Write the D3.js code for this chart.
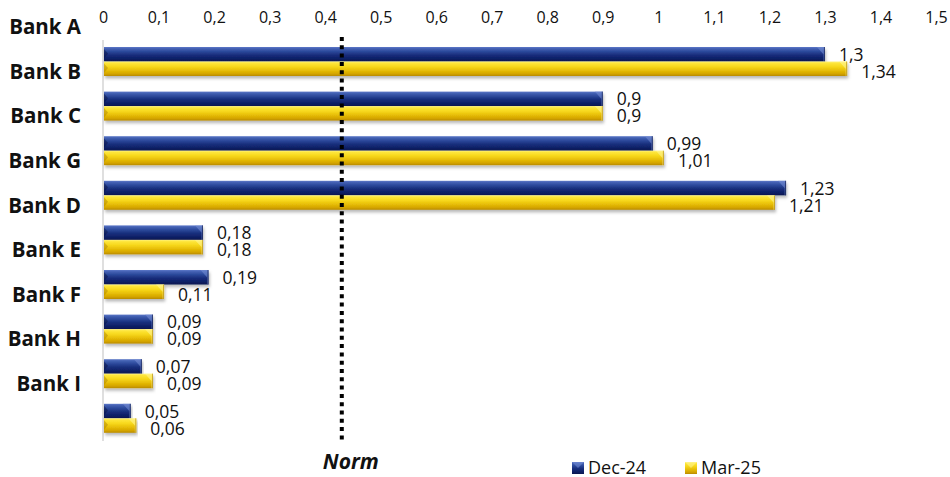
<!DOCTYPE html>
<html>
<head>
<meta charset="utf-8">
<script src="https://cdn.jsdelivr.net/npm/d3@7"></script>
<style>
  html, body { margin: 0; padding: 0; background: #fff; }
  svg { display: block; font-family: "Open Sans", "Noto Sans", sans-serif; }
</style>
</head>
<body>
<svg id="chart" width="950" height="477"></svg>
<script>
// Category labels down the left side
const categories = ["Bank A", "Bank B", "Bank C", "Bank G", "Bank D", "Bank E", "Bank F", "Bank H", "Bank I"];
// Series values, one entry per bar group (top to bottom)
const dec24 = [1.3, 0.9, 0.99, 1.23, 0.18, 0.19, 0.09, 0.07, 0.05];
const mar25 = [1.34, 0.9, 1.01, 1.21, 0.18, 0.11, 0.09, 0.09, 0.06];
const seriesNames = ["Dec-24", "Mar-25"];
// Top axis ticks
const tickValues = [0, 0.1, 0.2, 0.3, 0.4, 0.5, 0.6, 0.7, 0.8, 0.9, 1, 1.1, 1.2, 1.3, 1.4, 1.5];
// Reference level drawn as the dotted "Norm" line
const normValue = 0.43;

const fmt = v => String(+v.toFixed(2)).replace(".", ",");

const svg = d3.select("#chart");
const defs = svg.append("defs");

// Bar gradients: a bevelled, glossy look for each series
function vGrad(id, stops) {
  const g = defs.append("linearGradient").attr("id", id)
    .attr("x1", 0).attr("y1", 0).attr("x2", 0).attr("y2", 1);
  stops.forEach(([o, c]) => g.append("stop").attr("offset", o).attr("stop-color", c));
}
vGrad("gBlue", [[0, "#5d78c8"], [0.12, "#4360b2"], [0.3, "#2d4a9c"], [0.55, "#182e7c"], [0.8, "#0e2066"], [1, "#0a1650"]]);
vGrad("gYellow", [[0, "#fff27a"], [0.12, "#fde53a"], [0.35, "#f7d81c"], [0.6, "#e8bf08"], [0.85, "#d4a400"], [1, "#b88a00"]]);

const shadow = defs.append("filter").attr("id", "shadow")
  .attr("x", "-5%").attr("y", "-30%").attr("width", "110%").attr("height", "180%");
shadow.append("feDropShadow").attr("dx", 1).attr("dy", 2.5).attr("stdDeviation", 1.6)
  .attr("flood-color", "#000").attr("flood-opacity", 0.28);

const x = d3.scaleLinear().domain([0, 1.5]).range([103, 936]);

const groups = d3.range(dec24.length);
const y = d3.scaleBand().domain(groups).range([39.2, 440.6])
  .paddingInner(0.35).paddingOuter(0.175);
const ySub = d3.scaleBand().domain(seriesNames).range([0, y.bandwidth()]);

const seriesData = [
  { name: "Dec-24", values: dec24, fill: "url(#gBlue)", light: "#7890d6", dark: "#08123f", labelDy: 0.5 },
  { name: "Mar-25", values: mar25, fill: "url(#gYellow)", light: "#fff59a", dark: "#a97f00", labelDy: 3 }
];

// Top axis
const axis = d3.axisTop(x).tickValues(tickValues).tickFormat(fmt).tickSize(0).tickPadding(0);
const axG = svg.append("g").attr("transform", "translate(0,23)").call(axis);
axG.select(".domain").remove();
axG.selectAll("text").attr("font-size", 16).attr("fill", "#111")
  .attr("font-family", "'Open Sans', sans-serif").attr("dy", 0);

// Left baseline
svg.append("line").attr("x1", x(0)).attr("x2", x(0))
  .attr("y1", 40).attr("y2", 441)
  .attr("stroke", "#d4d4d4").attr("stroke-width", 1.5);

// Category labels
svg.append("g").selectAll("text").data(categories).join("text")
  .attr("x", 81)
  .attr("y", (d, i) => y(i) - 20)
  .attr("dy", "0.35em")
  .attr("text-anchor", "end")
  .attr("font-size", 20.5)
  .attr("font-weight", 700)
  .attr("fill", "#111")
  .text(d => d);

// Bars
const barG = svg.append("g");
seriesData.forEach(s => {
  const h = ySub.bandwidth();
  const g = barG.append("g");
  const items = groups.map(i => ({ i, v: s.values[i], y0: y(i) + ySub(s.name) }));
  const bar = g.selectAll("g").data(items).join("g").attr("filter", "url(#shadow)");
  bar.append("rect")
    .attr("x", x(0) + 1)
    .attr("y", d => d.y0)
    .attr("width", d => x(d.v) - x(0) - 1)
    .attr("height", h)
    .attr("fill", s.fill);
  // right-end bevel facet
  bar.append("path")
    .attr("d", d => {
      const xe = x(d.v), t = d.y0, b = d.y0 + h, w = Math.min(8, (x(d.v) - x(0)) / 3);
      return `M${xe - w},${t} L${xe},${t} L${xe},${b} L${xe - 1.5},${b} L${xe - 1.5},${t + w * 0.9} Z`;
    })
    .attr("fill", s.light).attr("opacity", 0.55);
  bar.append("line")
    .attr("x1", d => x(d.v) - 0.5).attr("x2", d => x(d.v) - 0.5)
    .attr("y1", d => d.y0).attr("y2", d => d.y0 + h)
    .attr("stroke", s.dark).attr("stroke-width", 1).attr("opacity", 0.6);
  // left-end bevel facet
  bar.append("path")
    .attr("d", d => `M${x(0) + 1},${d.y0 + 2} L${x(0) + 5},${d.y0 + h * 0.45} L${x(0) + 1},${d.y0 + h * 0.8} Z`)
    .attr("fill", s.dark).attr("opacity", 0.45);

  // value labels
  g.selectAll("text").data(items).join("text")
    .attr("x", d => x(d.v) + 14)
    .attr("y", d => d.y0 + h / 2 + s.labelDy)
    .attr("dy", "0.35em")
    .attr("font-size", 17.5)
    .attr("fill", "#111")
    .text(d => fmt(d.v));
});

// Norm line
svg.append("line")
  .attr("x1", x(normValue)).attr("x2", x(normValue))
  .attr("y1", 37).attr("y2", 441)
  .attr("stroke", "#000").attr("stroke-width", 4)
  .attr("stroke-dasharray", "4,4.3");
svg.append("text")
  .attr("x", x(normValue) - 19).attr("y", 469)
  .attr("font-size", 21).attr("font-weight", 700).attr("font-style", "italic")
  .attr("fill", "#111").text("Norm");

// Legend
const legend = svg.append("g");
const legendX = [572, 685];
seriesData.forEach((s, k) => {
  const lg = legend.append("g").attr("transform", `translate(${legendX[k]},462)`);
  lg.append("rect").attr("width", 12).attr("height", 12).attr("fill", s.fill);
  lg.append("path").attr("d", "M0,0 L12,0 L6,6 Z").attr("fill", s.light).attr("opacity", 0.55);
  lg.append("text").attr("x", 16).attr("y", 6).attr("dy", "0.35em")
    .attr("font-size", 18).attr("fill", "#111").text(s.name);
});
</script>
</body>
</html>
